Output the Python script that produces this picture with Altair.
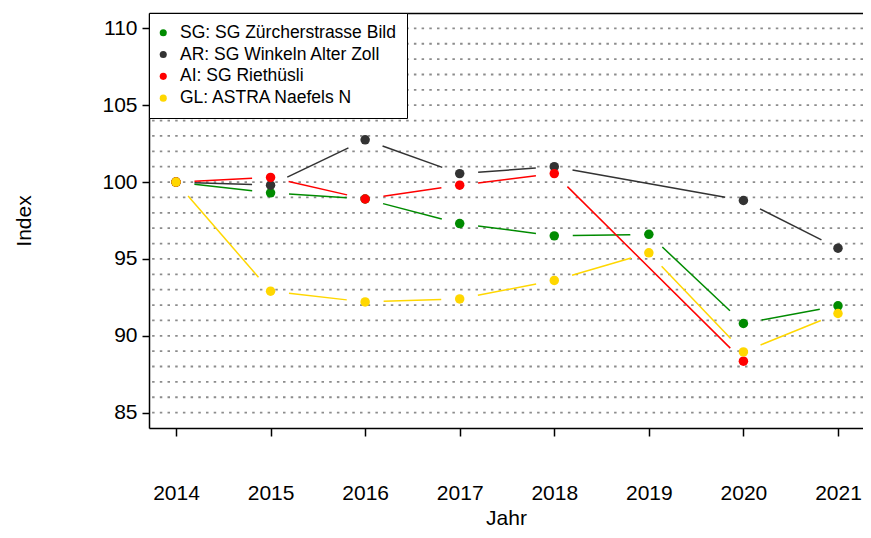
import math
import altair as alt
import pandas as pd

# ---- data ----
years = [2014, 2015, 2016, 2017, 2018, 2019, 2020, 2021]
series_names = [
    "SG: SG Zürcherstrasse Bild",
    "AR: SG Winkeln Alter Zoll",
    "AI: SG Riethüsli",
    "GL: ASTRA Naefels N",
]
series_colors = ["#008B00", "#333333", "#FF0000", "#FFD700"]
sg_zuercherstrasse = [100.0, 99.3, 98.9, 97.3, 96.5, 96.6, 90.8, 91.95]
ar_winkeln = [100.0, 99.8, 102.75, 100.55, 101.0, None, 98.8, 95.7]
ai_riethuesli = [100.0, 100.3, 98.9, 99.8, 100.55, None, 88.35, None]
gl_naefels = [100.0, 92.9, 92.2, 92.4, 93.6, 95.4, 88.95, 91.45]
grid_levels = list(range(85, 111))
y_tick_values = [85, 90, 95, 100, 105, 110]

# ---- layout ----
W, H = 714, 415
X_DOMAIN = [2013.7145, 2021.2645]
Y_DOMAIN = [84, 111]
GAP = 18.5  # px gap between line ends and point centres (R type="b")
FONT = "Liberation Sans"

series_values = [sg_zuercherstrasse, ar_winkeln, ai_riethuesli, gl_naefels]

pts = []
for name, vals in zip(series_names, series_values):
    for yr, v in zip(years, vals):
        if v is not None:
            pts.append({"series": name, "year": yr, "value": v})
points_df = pd.DataFrame(pts)

sx = W / (X_DOMAIN[1] - X_DOMAIN[0])
sy = H / (Y_DOMAIN[1] - Y_DOMAIN[0])
segs = []
for name, vals in zip(series_names, series_values):
    valid = [(yr, v) for yr, v in zip(years, vals) if v is not None]
    for (x1, y1), (x2, y2) in zip(valid[:-1], valid[1:]):
        d = math.hypot((x2 - x1) * sx, (y2 - y1) * sy)
        if d <= 2 * GAP:
            continue
        f = GAP / d
        segs.append({
            "series": name,
            "x1": x1 + f * (x2 - x1), "y1": y1 + f * (y2 - y1),
            "x2": x2 - f * (x2 - x1), "y2": y2 - f * (y2 - y1),
        })
segs_df = pd.DataFrame(segs)

xscale = alt.Scale(domain=X_DOMAIN, nice=False, zero=False)
yscale = alt.Scale(domain=Y_DOMAIN, nice=False, zero=False)
cscale = alt.Scale(domain=series_names, range=series_colors)

x_axis = alt.Axis(
    orient="bottom",
    values=years, format="d", grid=False,
    tickSize=8, tickColor="black", tickWidth=1.5,
    domainColor="black", domainWidth=1.5,
    labelFont=FONT, labelFontSize=21, labelColor="black",
    labelBaseline="alphabetic", labelPadding=63,
    title="Jahr", titleFont=FONT, titleFontSize=21, titleFontWeight="normal",
    titleColor="black", titleBaseline="alphabetic", titleY=96,
)
y_axis = alt.Axis(
    values=y_tick_values, grid=False,
    tickSize=7, tickColor="black", tickWidth=1.5,
    domainColor="black", domainWidth=1.5,
    labelFont=FONT, labelFontSize=21, labelColor="black", labelPadding=5,
    title="Index", titleFont=FONT, titleFontSize=21, titleFontWeight="normal",
    titleColor="black", titleAngle=-90, titleX=-119, titleY=H / 2,
    titleBaseline="alphabetic", titleAlign="center",
)

grid = alt.Chart(pd.DataFrame({"level": grid_levels})).mark_rule(
    color="#8c8c8c", strokeWidth=1.8, strokeDash=[2.5, 5.2]
).encode(
    y=alt.Y("level:Q", scale=yscale, axis=y_axis)
)

lines = alt.Chart(segs_df).mark_rule(strokeWidth=1.5).encode(
    x=alt.X("x1:Q", scale=xscale, axis=x_axis),
    y=alt.Y("y1:Q", scale=yscale, axis=y_axis),
    x2="x2:Q",
    y2="y2:Q",
    color=alt.Color("series:N", scale=cscale, legend=None),
)

circles = alt.Chart(points_df).mark_circle(size=90, opacity=1).encode(
    x=alt.X("year:Q", scale=xscale, axis=None),
    y=alt.Y("value:Q", scale=yscale, axis=y_axis),
    color=alt.Color(
        "series:N", scale=cscale,
        legend=alt.Legend(
            title=None, orient="none", legendX=0, legendY=0,
            symbolType="circle", symbolSize=50, symbolStrokeWidth=0,
            symbolOffset=-5.5,
            labelFont=FONT, labelFontSize=17.5, labelColor="black",
            labelOffset=8, labelLimit=400, rowPadding=2.8, padding=11,
            strokeColor="black", fillColor="white",
        ),
    ),
)

top_frame = alt.Chart(pd.DataFrame({"year": years})).mark_point(opacity=0).encode(
    x=alt.X("year:Q", scale=xscale,
            axis=alt.Axis(orient="top", labels=False, ticks=False, grid=False,
                          title=None, domainColor="black", domainWidth=1.5)),
)

chart = alt.layer(grid, lines, circles, top_frame).resolve_axis(
    x="independent"
).resolve_legend(color="independent").properties(
    width=W, height=H,
    autosize=alt.AutoSizeParams(type="none"),
    padding={"left": 141, "top": 5, "right": 0, "bottom": 100},
).configure_view(stroke=None).configure_legend(strokeWidth=1.5).configure(
    background="white"
)

chart.save("out.html", embed_options={"renderer": "svg", "actions": False})
